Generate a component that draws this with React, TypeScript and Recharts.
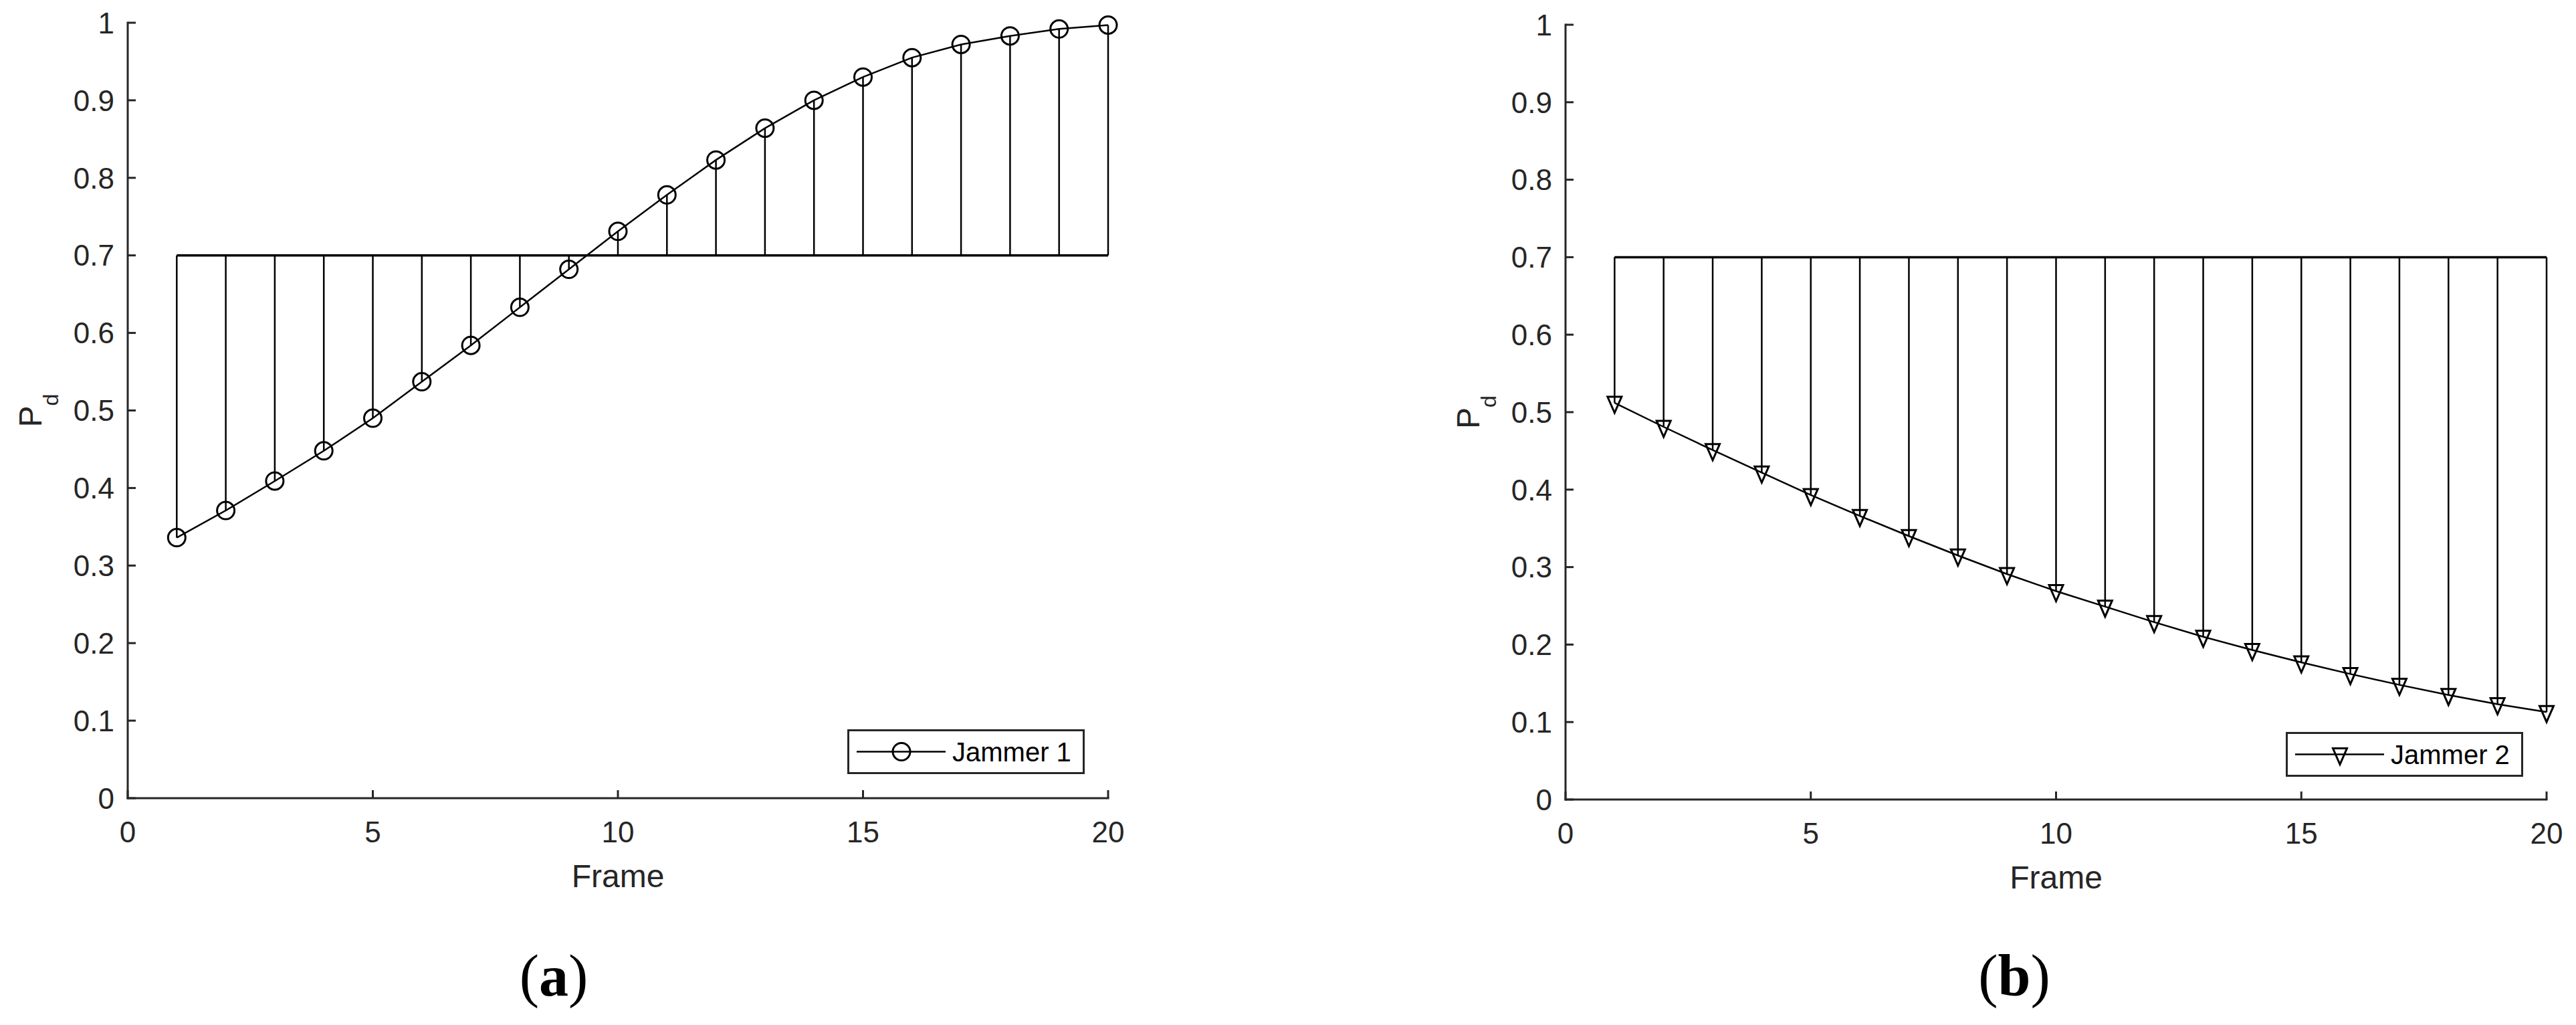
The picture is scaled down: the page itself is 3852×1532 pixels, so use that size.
import React from 'react';
import { ComposedChart, Line, XAxis, YAxis, ReferenceLine, Legend } from 'recharts';

// ---------- data ----------
const frames = [1, 2, 3, 4, 5, 6, 7, 8, 9, 10, 11, 12, 13, 14, 15, 16, 17, 18, 19, 20];
const jammer1Pd = [0.336, 0.371, 0.409, 0.448, 0.49, 0.537, 0.584, 0.633, 0.682, 0.731, 0.778, 0.823, 0.864, 0.9, 0.93, 0.955, 0.972, 0.983, 0.992, 0.997];
const jammer2Pd = [0.512, 0.481, 0.451, 0.422, 0.393, 0.366, 0.34, 0.315, 0.291, 0.269, 0.249, 0.229, 0.21, 0.193, 0.177, 0.162, 0.148, 0.135, 0.123, 0.113];
const threshold = 0.7;
const xTicks = [0, 5, 10, 15, 20];
const yTicks = [0, 0.1, 0.2, 0.3, 0.4, 0.5, 0.6, 0.7, 0.8, 0.9, 1];
const yTickLabels = ['0', '0.1', '0.2', '0.3', '0.4', '0.5', '0.6', '0.7', '0.8', '0.9', '1'];
const seriesNames = ['Jammer 1', 'Jammer 2'];
const panelLetters = ['a', 'b'];
const xLabel = 'Frame';
const yLabelMain = 'P';
const yLabelSub = 'd';

// ---------- style ----------
const AX = '#262626';
const FONT = '"Liberation Sans", Arial, Helvetica, sans-serif';
const SERIF = '"Liberation Serif", "Times New Roman", serif';
const TL = 12;
const X_MARGIN = 34;
const Y_MARGIN = 20;
const TICK_FS = 44;

const BottomTick = (p: any) => {
  const { x, y, payload } = p;
  const ay = y - X_MARGIN;
  return (
    <g>
      <line x1={x} x2={x} y1={ay} y2={ay - TL} stroke={AX} strokeWidth={3} />
      <text x={x} y={y + 0.716 * TICK_FS} textAnchor="middle" fontSize={TICK_FS} fontFamily={FONT} fill={AX}>
        {String(payload.value)}
      </text>
    </g>
  );
};

const LeftTick = (p: any) => {
  const { x, y, payload } = p;
  const ax = x + Y_MARGIN;
  const idx = yTicks.indexOf(payload.value);
  const label = idx >= 0 ? yTickLabels[idx] : String(payload.value);
  return (
    <g>
      <line x1={ax} x2={ax + TL} y1={y} y2={y} stroke={AX} strokeWidth={3} />
      <text x={x} y={y + (0.716 * TICK_FS) / 2} textAnchor="end" fontSize={TICK_FS} fontFamily={FONT} fill={AX}>
        {label}
      </text>
    </g>
  );
};

const TopTick = (p: any) => {
  const { x, y } = p;
  return <line x1={x} x2={x} y1={y} y2={y + TL} stroke={AX} strokeWidth={3} />;
};

const RightTick = (p: any) => {
  const { x, y } = p;
  return <line x1={x} x2={x - TL} y1={y} y2={y} stroke={AX} strokeWidth={3} />;
};

const YLabel = (p: any) => {
  const vb = p.viewBox || { x: 0, y: 0, width: 0, height: 0 };
  const bx = vb.x + vb.width - 129;
  const cy = vb.y + vb.height / 2;
  return (
    <text
      transform={`rotate(-90 ${bx} ${cy})`}
      x={bx}
      y={cy}
      textAnchor="middle"
      fontSize={48}
      fontFamily={FONT}
      fill={AX}
    >
      <tspan>{yLabelMain}</tspan>
      <tspan dy={25} fontSize={32}>{yLabelSub}</tspan>
    </text>
  );
};

const circleMarker = (cx: number, cy: number, key?: string) => (
  <circle key={key} cx={cx} cy={cy} r={13} fill="none" stroke="#000" strokeWidth={3} />
);
const triMarker = (cx: number, cy: number, key?: string) => (
  <path
    key={key}
    d={`M${cx - 10.5},${cy - 9} L${cx + 10.5},${cy - 9} L${cx},${cy + 15} Z`}
    fill="none"
    stroke="#000"
    strokeWidth={3}
  />
);

const LegendBox = ({ name, marker }: { name: string; marker: (cx: number, cy: number) => React.ReactNode }) => (
  <svg width={355} height={67} style={{ display: 'block' }}>
    <rect x={1.5} y={1.5} width={352} height={64} fill="#fff" stroke={AX} strokeWidth={3} />
    <line x1={14} x2={147} y1={33.5} y2={33.5} stroke="#000" strokeWidth={2.5} />
    {marker(81, 33.5)}
    <text x={157} y={48} fontSize={40} fontFamily={FONT} fill="#000">
      {name}
    </text>
  </svg>
);

type PanelProps = {
  values: number[];
  name: string;
  marker: (cx: number, cy: number, key?: string) => React.ReactNode;
  left: number;
  margin: { top: number; right: number; bottom: number; left: number };
  legendLeft: number;
  legendTop: number;
};

const axisLineStyle = { stroke: AX, strokeWidth: 3, strokeLinecap: 'square' as const };

const Panel = ({ values, name, marker, left, margin, legendLeft, legendTop }: PanelProps) => {
  const rows = frames.map((f, i) => ({ frame: f, pd: values[i] }));
  return (
    <div style={{ position: 'absolute', left, top: 0 }}>
      <ComposedChart width={1926} height={1400} data={rows} margin={margin}>
        <XAxis
          dataKey="frame"
          type="number"
          domain={[0, 20]}
          ticks={xTicks}
          interval={0}
          height={140}
          tickSize={0}
          tickMargin={X_MARGIN}
          tickLine={false}
          tick={BottomTick}
          axisLine={axisLineStyle}
          label={{ value: xLabel, position: 'insideBottom', offset: 7, fill: AX, fontSize: 48, fontFamily: FONT }}
        />
        <XAxis
          xAxisId="top"
          orientation="top"
          type="number"
          domain={[0, 20]}
          ticks={xTicks}
          interval={0}
          height={0}
          tickSize={0}
          tickMargin={0}
          tickLine={false}
          tick={TopTick}
          axisLine={axisLineStyle}
        />
        <YAxis
          type="number"
          domain={[0, 1]}
          ticks={yTicks}
          interval={0}
          width={191}
          tickSize={0}
          tickMargin={Y_MARGIN}
          tickLine={false}
          tick={LeftTick}
          axisLine={axisLineStyle}
          label={<YLabel />}
        />
        <YAxis
          yAxisId="right"
          orientation="right"
          type="number"
          domain={[0, 1]}
          ticks={yTicks}
          interval={0}
          width={0}
          tickSize={0}
          tickMargin={0}
          tickLine={false}
          tick={RightTick}
          axisLine={axisLineStyle}
        />
        {frames.map((f, i) => (
          <ReferenceLine
            key={`stem-${f}`}
            segment={[
              { x: f, y: threshold },
              { x: f, y: values[i] },
            ]}
            stroke="#000"
            strokeWidth={2.5}
            ifOverflow="visible"
          />
        ))}
        <ReferenceLine
          segment={[
            { x: frames[0], y: threshold },
            { x: frames[frames.length - 1], y: threshold },
          ]}
          stroke="#000"
          strokeWidth={3.5}
          ifOverflow="visible"
        />
        <Line
          dataKey="pd"
          name={name}
          type="linear"
          stroke="#000"
          strokeWidth={2.5}
          isAnimationActive={false}
          activeDot={false}
          dot={(p: any) => marker(p.cx, p.cy, `dot-${p.index}`) as any}
        />
        <Legend
          layout="vertical"
          align="center"
          verticalAlign="middle"
          wrapperStyle={{ left: legendLeft, top: legendTop, width: 355, height: 67 }}
          content={() => <LegendBox name={name} marker={marker} />}
        />
      </ComposedChart>
    </div>
  );
};

const Caption = ({ x, letter }: { x: number; letter: string }) => (
  <text x={x} y={1488} textAnchor="middle" fontSize={88} fontFamily={SERIF} fill="#000">
    <tspan>(</tspan>
    <tspan fontWeight="bold">{letter}</tspan>
    <tspan>)</tspan>
  </text>
);

export default function App() {
  return (
    <div style={{ position: 'absolute', left: 0, top: 0, width: 3852, height: 1532, background: '#fff', overflow: 'hidden' }}>
      <Panel
        values={jammer1Pd}
        name={seriesNames[0]}
        marker={circleMarker}
        left={0}
        margin={{ top: 34, right: 269, bottom: 67, left: 0 }}
        legendLeft={1267}
        legendTop={1090}
      />
      <Panel
        values={jammer2Pd}
        name={seriesNames[1]}
        marker={triMarker}
        left={1926}
        margin={{ top: 37, right: 44, bottom: 65, left: 224 }}
        legendLeft={1492}
        legendTop={1094}
      />
      <svg width={3852} height={1532} style={{ position: 'absolute', left: 0, top: 0, pointerEvents: 'none' }}>
        <Caption x={828} letter={panelLetters[0]} />
        <Caption x={3012} letter={panelLetters[1]} />
      </svg>
    </div>
  );
}
